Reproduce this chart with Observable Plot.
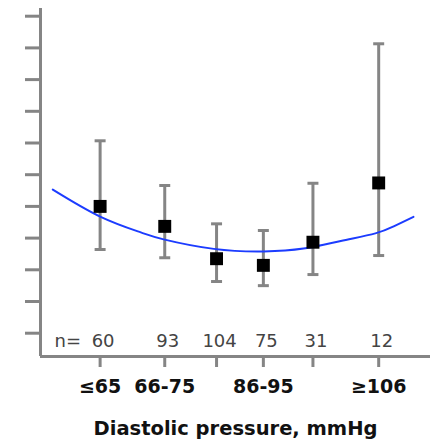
<!DOCTYPE html>
<html>
<head>
<meta charset="utf-8">
<script src="https://cdn.jsdelivr.net/npm/d3@7"></script>
<script src="https://cdn.jsdelivr.net/npm/@observablehq/plot@0.6"></script>
<style>
  html, body { margin: 0; padding: 0; background: #fff; }
</style>
</head>
<body>
<div id="chart"></div>
<script>
// Groups of diastolic pressure (x = approximate group mean, mmHg)
const groups = ["≤65", "66-75", "76-85", "86-95", "96-105", "≥106"];
const tickLabels = ["≤65", "66-75", "", "86-95", "", "≥106"];
const xMeans = [60, 71.6, 80.9, 89.3, 98.2, 110];
const nCounts = [60, 93, 104, 75, 31, 12];
// Point estimates and error bars (unlabelled y units)
const estimates = [4.00, 3.37, 2.35, 2.14, 2.87, 4.74];
const lower = [2.64, 2.38, 1.63, 1.50, 1.85, 2.45];
const upper = [6.07, 4.66, 3.45, 3.24, 4.73, 9.13];
// Fitted curve
const curveX = [51.5, 60.1, 67.3, 71.4, 80.4, 89.35, 96.5, 103.2, 109.4, 112.7, 116.25];
const curveY = [4.53, 3.67, 3.18, 2.96, 2.66, 2.58, 2.67, 2.91, 3.15, 3.37, 3.67];
// Axis settings
const yTicks = [0, 1, 2, 3, 4, 5, 6, 7, 8, 9, 10];
const xDomain = [49.3, 119.3];
const yDomain = [-0.735, 10.243];
const xTitle = "Diastolic pressure, mmHg";

const points = groups.map((g, i) => ({
  group: g, x: xMeans[i], y: estimates[i], lo: lower[i], hi: upper[i], n: nCounts[i]
}));
const curve = curveX.map((x, i) => ({x, y: curveY[i]}));

const gray = "#858585";
const font = "DejaVu Sans, Verdana, sans-serif";

const capSymbol = {
  draw(context, size) {
    const w = Math.sqrt(size);
    context.moveTo(-w, 0);
    context.lineTo(w, 0);
  }
};

const chart = Plot.plot({
  width: 433,
  height: 441,
  marginLeft: 40,
  marginRight: 3,
  marginTop: 8,
  marginBottom: 85,
  style: {fontFamily: font, background: "#fff"},
  x: {domain: xDomain},
  y: {domain: yDomain},
  marks: [
    Plot.axisY({
      ticks: yTicks, tickSize: 15, tickFormat: () => "",
      stroke: gray, strokeWidth: 3, label: null
    }),
    Plot.axisX({
      ticks: xMeans, tickSize: 11, tickPadding: 12,
      tickFormat: (d) => tickLabels[xMeans.indexOf(d)],
      stroke: gray, strokeWidth: 3, label: null,
      fontSize: 19, fontWeight: "bold", fill: "#111"
    }),
    Plot.ruleX([xDomain[0]], {stroke: gray, strokeWidth: 3}),
    Plot.ruleY([yDomain[0]], {stroke: gray, strokeWidth: 3}),
    Plot.ruleX(points, {x: "x", y1: "lo", y2: "hi", stroke: gray, strokeWidth: 3}),
    Plot.dot(points, {x: "x", y: "hi", symbol: capSymbol, r: 3.1, stroke: gray, strokeWidth: 3}),
    Plot.dot(points, {x: "x", y: "lo", symbol: capSymbol, r: 3.1, stroke: gray, strokeWidth: 3}),
    Plot.line(curve, {x: "x", y: "y", curve: "natural", stroke: "#1c3cff", strokeWidth: 2}),
    Plot.dot(points, {x: "x", y: "y", symbol: "square", r: 7.3, fill: "#000", stroke: null}),
    Plot.text(["n="], {frameAnchor: "bottom-left", dx: 14, dy: -10, lineAnchor: "bottom",
      textAnchor: "start", fontSize: 18, fill: "#444"}),
    Plot.text(points, {x: "x", frameAnchor: "bottom", text: (d) => String(d.n), dx: 3, dy: -10,
      lineAnchor: "bottom", fontSize: 18, fill: "#444"}),
    Plot.text([xTitle], {frameAnchor: "bottom", dy: 72, lineAnchor: "middle",
      fontSize: 19.5, fontWeight: "bold", fill: "#111"})
  ]
});
document.getElementById("chart").appendChild(chart);
</script>
</body>
</html>
